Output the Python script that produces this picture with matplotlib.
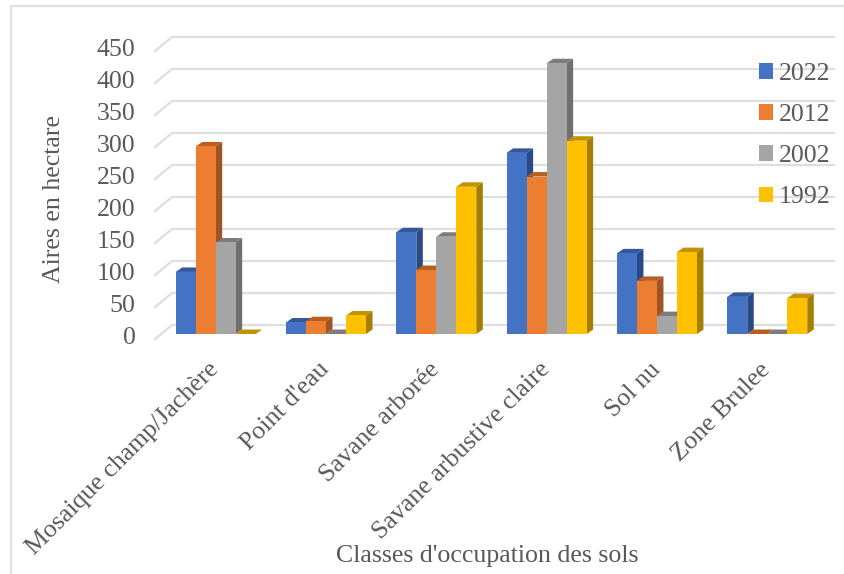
import matplotlib
matplotlib.use('Agg')
import matplotlib.pyplot as plt
from matplotlib.lines import Line2D
from matplotlib.patches import Patch, Polygon
from matplotlib.transforms import ScaledTranslation

# Data
categories = ['Mosaique champ/Jachère', "Point d'eau", 'Savane arborée',
              'Savane arbustive claire', 'Sol nu', 'Zone Brulee']
years = ['2022', '2012', '2002', '1992']
v2022 = [97, 18, 159, 283, 126, 58]
v2012 = [293, 20, 100, 246, 83, 0]
v2002 = [143, 0, 152, 423, 28, 0]
v1992 = [0, 29, 230, 302, 128, 56]
y_ticks = [0, 50, 100, 150, 200, 250, 300, 350, 400, 450]

front_cols = ['#4472C4', '#ED7D31', '#A5A5A5', '#FFC000']
side_cols = ['#2A4A85', '#9E5423', '#6F6F6F', '#A67E00']
top_cols = ['#34589B', '#B85F20', '#7C7C7C', '#C29200']

W, H = 844, 574
plt.rcParams['font.family'] = ['Liberation Serif', 'DejaVu Serif']
fig = plt.figure(figsize=(W / 100, H / 100), dpi=100)

# axes placed in pixels: x 155-834, y 37-339
ax = fig.add_axes([155 / W, 1 - 339 / H, (834 - 155) / W, (339 - 37) / H])
ax.set_xlim(-0.55, 5.605)
ax.set_ylim(-7.8, 464)
ax.patch.set_alpha(0)
for s in ax.spines.values():
    s.set_visible(False)

bar_w = 0.1813
dx = 0.059   # depth of a bar
dy = 7
wall_dx = 17 / 110.3   # depth of the chart floor

# gridlines with the slanted part on the left wall
for t in y_ticks:
    ax.plot([-0.55, -0.55 + wall_dx, 5.605], [t - 7.8, t + 14, t + 14],
            color='#DEDEDE', lw=1.6, zorder=1, clip_on=False)

series = [v2022, v2012, v2002, v1992]
z = 2
for i in range(len(categories)):
    for j, vals in enumerate(series):
        x0 = i + (j - 2) * bar_w
        x1 = x0 + bar_w
        h = vals[i]
        side = [(x1, 0), (x1 + dx, dy), (x1 + dx, h + dy), (x1, h)]
        top = [(x0, h), (x0 + dx, h + dy), (x1 + dx, h + dy), (x1, h)]
        ax.add_patch(Polygon(side, closed=True, fc=side_cols[j], ec='none', zorder=z))
        ax.add_patch(Polygon(top, closed=True, fc=top_cols[j], ec='none', zorder=z))
        ax.bar(x0, h, width=bar_w, align='edge', color=front_cols[j], zorder=z + 0.5)
        z += 1

ax.set_yticks(y_ticks)
ax.set_xticks(range(len(categories)))
ax.set_xticklabels(categories, rotation=45, ha='right', rotation_mode='anchor')
ax.tick_params(axis='both', length=0, labelsize=18.6, labelcolor='#595959')
ax.tick_params(axis='x', pad=14)
ax.tick_params(axis='y', pad=14)

# small nudges in pixels
for lab in ax.get_xticklabels():
    lab.set_transform(lab.get_transform() + ScaledTranslation(-8 / 100, 0, fig.dpi_scale_trans))
for lab in ax.get_yticklabels():
    lab.set_transform(lab.get_transform() + ScaledTranslation(0, -1.5 / 100, fig.dpi_scale_trans))

fig.text(487 / W, 1 - 556 / H, "Classes d'occupation des sols", ha='center', va='center',
         fontsize=18.6, color='#595959')
fig.text(54 / W, 1 - 199 / H, 'Aires en hectare', rotation=90, ha='center', va='center',
         fontsize=18.6, color='#595959')

handles = [Patch(fc=c, ec='none') for c in front_cols]
fig.legend(handles, years, loc='upper left', bbox_to_anchor=(759 / W, 1 - 63 / H), frameon=False,
           fontsize=18.6, labelcolor='#595959', handlelength=0.54, handleheight=0.54,
           handletextpad=0.22, labelspacing=0.74, borderpad=0, borderaxespad=0)

# frame of the pasted chart
fig.add_artist(Line2D([10.5 / W, 10.5 / W, 1], [0, 1 - 6 / H, 1 - 6 / H], color='#E0E0E0', lw=1.6))

fig.savefig('out.png', dpi=100)
